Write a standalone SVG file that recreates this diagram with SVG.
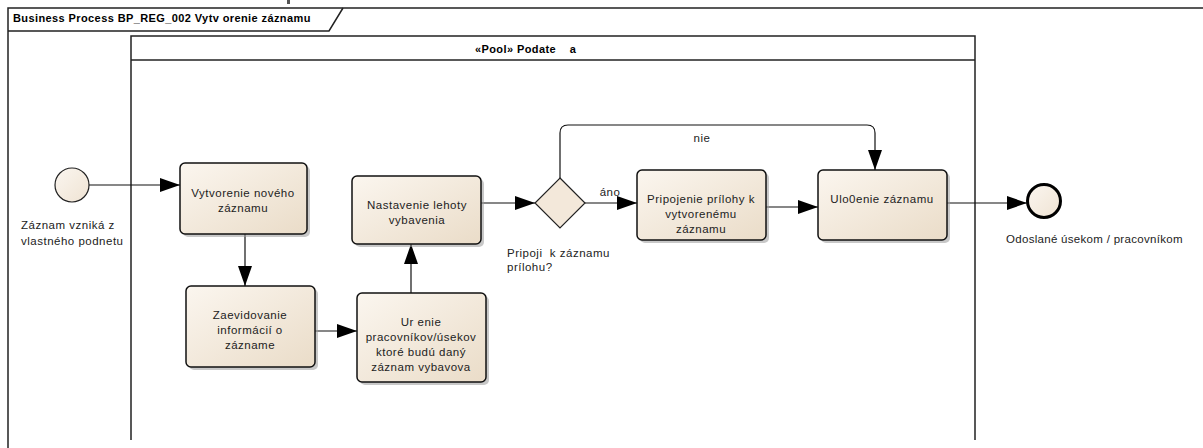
<svg xmlns="http://www.w3.org/2000/svg" width="1203" height="448" viewBox="0 0 1203 448">
  <style>
    .frame { fill: none; stroke: #222; stroke-width: 1.5; }
    .lbl { font-family: "Liberation Sans", Arial, sans-serif; font-size: 11.5px; fill: #222; letter-spacing: 0.5px; }
    .mid { text-anchor: middle; }
    .bold { font-weight: bold; font-size: 11px; fill: #000; letter-spacing: 0.4px; }
    .task { fill: url(#taskFill); stroke: #111; stroke-width: 1.5; }
    .shadow { fill: #9a9a9a; opacity: 0.55; }
    .flow { fill: none; stroke: #111; stroke-width: 1.2; marker-end: url(#arrow); }
  </style>
  <defs>
    <linearGradient id="taskFill" x1="0" y1="0" x2="1" y2="1">
      <stop offset="0" stop-color="#FBF6EF"/>
      <stop offset="1" stop-color="#EADCC8"/>
    </linearGradient>
    <linearGradient id="eventFill" x1="0" y1="0" x2="1" y2="1">
      <stop offset="0" stop-color="#FBF6F0"/>
      <stop offset="1" stop-color="#EFE3D3"/>
    </linearGradient>
    <marker id="arrow" markerUnits="userSpaceOnUse" markerWidth="20" markerHeight="14" refX="20" refY="7" orient="auto">
      <path d="M0,0 L20,7 L0,14 z" fill="#000"/>
    </marker>
  </defs>

  <rect width="1203" height="448" fill="#fff"/>

  <!-- diagram frame with title tab -->
  <g id="frame">
    <rect x="287" y="0" width="3" height="4" fill="#555"/>
    <path class="frame" d="M8,448 V8 H1203"/>
    <path class="frame" d="M8,31 H329 L343,8"/>
    <text class="lbl bold" x="13" y="22">Business Process BP_REG_002 Vytv orenie záznamu</text>
  </g>

  <!-- pool -->
  <g id="pool">
    <path class="frame" d="M131,440 V36 H975 V440"/>
    <line class="frame" x1="131" y1="60" x2="975" y2="60"/>
    <text class="lbl bold" x="475" y="53" xml:space="preserve">«Pool» Podate    a</text>
  </g>

  <!-- sequence flows -->
  <g id="connectors">
    <line class="flow" x1="89" y1="185" x2="180" y2="185"/>
    <line class="flow" x1="245" y1="234" x2="245" y2="286"/>
    <line class="flow" x1="315" y1="331" x2="357" y2="331"/>
    <line class="flow" x1="411" y1="293" x2="411" y2="244"/>
    <line class="flow" x1="481" y1="203" x2="535" y2="203"/>
    <line class="flow" x1="585" y1="203" x2="637" y2="203"/>
    <text class="lbl mid" x="610" y="196">áno</text>
    <line class="flow" x1="766" y1="207" x2="818" y2="207"/>
    <path class="flow" d="M560,178 V133 Q560,125 568,125 H867 Q875,125 875,133 V170"/>
    <text class="lbl mid" x="702" y="142">nie</text>
    <line class="flow" x1="947" y1="203" x2="1027" y2="203"/>
  </g>

  <!-- start event -->
  <g id="start">
    <circle cx="72" cy="185" r="17" fill="url(#eventFill)" stroke="#222" stroke-width="1.2"/>
    <text class="lbl" x="21" y="229">Záznam vzniká z</text>
    <text class="lbl" x="21" y="245">vlastného podnetu</text>
  </g>

  <!-- tasks -->
  <g id="task-vytvorenie">
    <rect class="shadow" x="183" y="166" width="127" height="71" rx="5"/>
    <rect class="task" x="180" y="163" width="127" height="71" rx="5"/>
    <text class="lbl mid" x="243" y="197">Vytvorenie nového</text>
    <text class="lbl mid" x="243" y="212">záznamu</text>
  </g>

  <g id="task-zaevidovanie">
    <rect class="shadow" x="189" y="289" width="129" height="81" rx="5"/>
    <rect class="task" x="186" y="286" width="129" height="81" rx="5"/>
    <text class="lbl mid" x="250" y="319">Zaevidovanie</text>
    <text class="lbl mid" x="250" y="334">informácií o</text>
    <text class="lbl mid" x="250" y="349">zázname</text>
  </g>

  <g id="task-urcenie">
    <rect class="shadow" x="360" y="296" width="129" height="89" rx="5"/>
    <rect class="task" x="357" y="293" width="129" height="89" rx="5"/>
    <text class="lbl mid" x="421" y="326" xml:space="preserve">Ur enie</text>
    <text class="lbl mid" x="421" y="341">pracovníkov/úsekov</text>
    <text class="lbl mid" x="421" y="356">ktoré budú daný</text>
    <text class="lbl mid" x="421" y="371">záznam vybavova</text>
  </g>

  <g id="task-lehota">
    <rect class="shadow" x="355" y="179" width="129" height="68" rx="5"/>
    <rect class="task" x="352" y="176" width="129" height="68" rx="5"/>
    <text class="lbl mid" x="417" y="209">Nastavenie lehoty</text>
    <text class="lbl mid" x="417" y="224">vybavenia</text>
  </g>

  <g id="gateway">
    <path d="M560,178 L585,203 L560,228 L535,203 z" fill="#F3E8DA" stroke="#222" stroke-width="1.2"/>
    <text class="lbl" x="507" y="257" xml:space="preserve">Pripoji  k záznamu</text>
    <text class="lbl" x="507" y="271">prílohu?</text>
  </g>

  <g id="task-priloha">
    <rect class="shadow" x="640" y="173" width="129" height="70" rx="5"/>
    <rect class="task" x="637" y="170" width="129" height="70" rx="5"/>
    <text class="lbl mid" x="701" y="203">Pripojenie prílohy k</text>
    <text class="lbl mid" x="701" y="218">vytvorenému</text>
    <text class="lbl mid" x="701" y="233">záznamu</text>
  </g>

  <g id="task-ulozenie">
    <rect class="shadow" x="821" y="173" width="129" height="70" rx="5"/>
    <rect class="task" x="818" y="170" width="129" height="70" rx="5"/>
    <text class="lbl mid" x="882" y="203">Ulo0enie záznamu</text>
  </g>

  <!-- end event -->
  <g id="end">
    <circle cx="1044" cy="201" r="16.5" fill="url(#eventFill)" stroke="#000" stroke-width="3"/>
    <text class="lbl" x="1006" y="243" textLength="177" lengthAdjust="spacing">Odoslané úsekom / pracovníkom</text>
  </g>
</svg>
